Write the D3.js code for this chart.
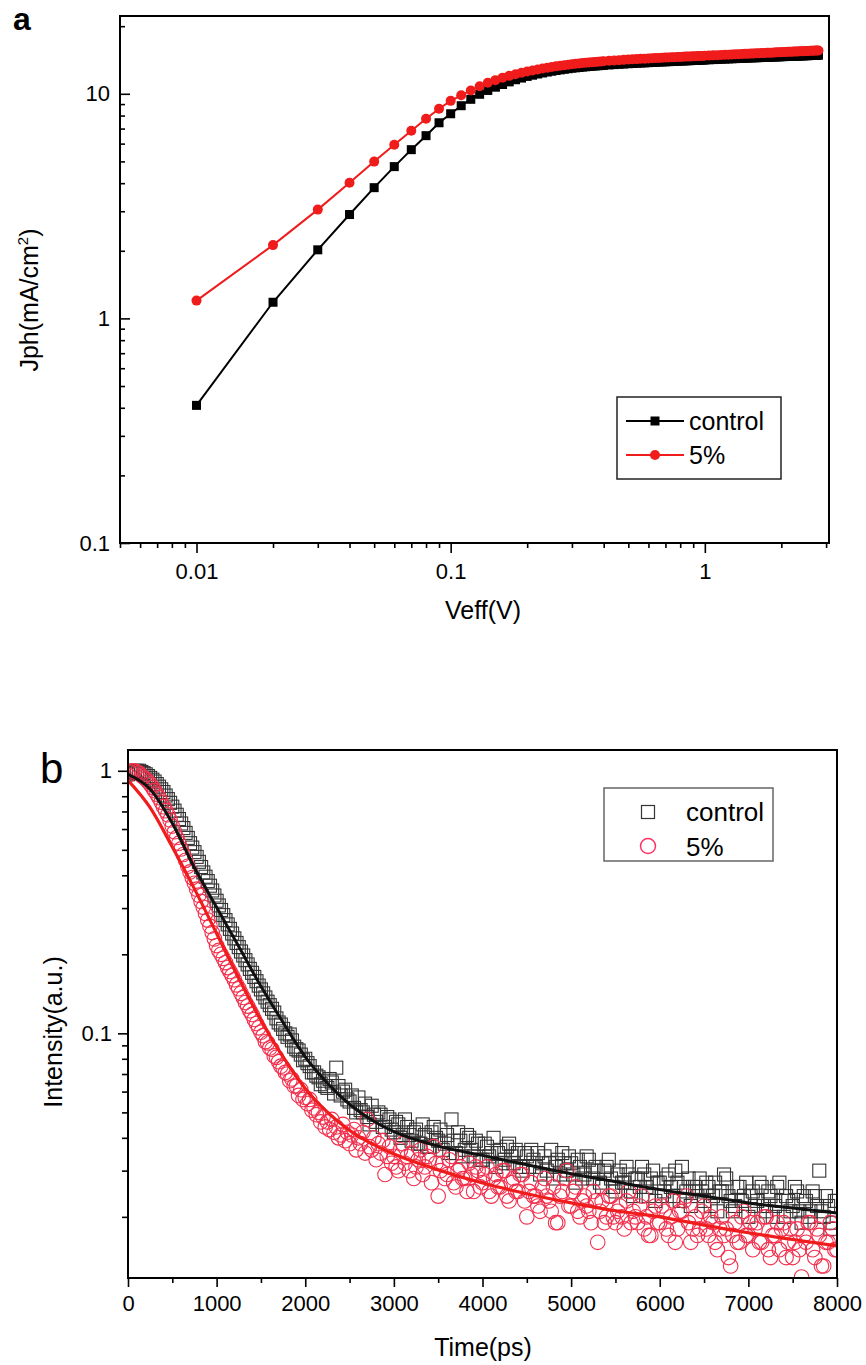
<!DOCTYPE html>
<html>
<head>
<meta charset="utf-8">
<script src="https://cdn.jsdelivr.net/npm/d3@7"></script>
<style>
    body { margin: 0; background: #fff; }
    svg { display: block; font-family: Arial, "Liberation Sans", sans-serif; }
</style>
</head>
<body>
<div id="chart"></div>
<script>
// ---- panel a : Jph vs Veff ----
const veff = [
    0.01, 0.02, 0.03, 0.04, 0.05, 0.06, 0.07, 0.08, 0.09, 0.10,
    0.11, 0.12, 0.13, 0.14, 0.15, 0.16, 0.17, 0.18, 0.19, 0.20,
    0.21, 0.22, 0.23, 0.24, 0.25, 0.26, 0.27, 0.28, 0.29, 0.30,
    0.31, 0.32, 0.33, 0.34, 0.35, 0.36, 0.37, 0.38, 0.39, 0.40,
    0.42, 0.44, 0.46, 0.48, 0.50, 0.52, 0.54, 0.56, 0.58, 0.60,
    0.62, 0.64, 0.66, 0.68, 0.70, 0.72, 0.74, 0.76, 0.78, 0.80,
    0.82, 0.84, 0.86, 0.88, 0.90, 0.92, 0.94, 0.96, 0.98, 1.00,
    1.04, 1.08, 1.12, 1.16, 1.20, 1.24, 1.28, 1.32, 1.36, 1.40,
    1.44, 1.48, 1.52, 1.56, 1.60, 1.64, 1.68, 1.72, 1.76, 1.80,
    1.84, 1.88, 1.92, 1.96, 2.00, 2.04, 2.08, 2.12, 2.16, 2.20,
    2.24, 2.28, 2.32, 2.36, 2.40, 2.44, 2.48, 2.52, 2.56, 2.60,
    2.64, 2.68, 2.72, 2.76, 2.80
]
const jphControl = [
    0.41, 1.18, 2.02, 2.90, 3.82, 4.74, 5.64, 6.51, 7.43, 8.15,
    8.85, 9.45, 9.95, 10.35, 10.7, 11.0, 11.3, 11.55, 11.75, 11.95,
    12.1, 12.25, 12.38, 12.5, 12.6, 12.7, 12.78, 12.86, 12.93, 13.0,
    13.05, 13.1, 13.15, 13.19, 13.23, 13.27, 13.3, 13.33, 13.36, 13.39,
    13.44, 13.49, 13.53, 13.57, 13.61, 13.64, 13.67, 13.70, 13.73, 13.76,
    13.79, 13.81, 13.84, 13.86, 13.88, 13.9, 13.92, 13.94, 13.96, 13.98,
    14.0, 14.02, 14.03, 14.05, 14.07, 14.08, 14.1, 14.11, 14.13, 14.14,
    14.17, 14.2, 14.22, 14.25, 14.27, 14.3, 14.32, 14.34, 14.36, 14.38,
    14.4, 14.42, 14.44, 14.46, 14.47, 14.49, 14.51, 14.52, 14.54, 14.55,
    14.57, 14.58, 14.6, 14.61, 14.62, 14.64, 14.65, 14.66, 14.68, 14.69,
    14.7, 14.71, 14.72, 14.74, 14.75, 14.76, 14.77, 14.78, 14.79, 14.8,
    14.81, 14.82, 14.83, 14.84, 14.85
]
const jph5 = [
    1.2, 2.12, 3.05, 4.02, 4.99, 5.93, 6.85, 7.74, 8.58, 9.3,
    9.85, 10.35, 10.8, 11.2, 11.5, 11.78, 12.02, 12.22, 12.4, 12.56,
    12.7, 12.83, 12.95, 13.06, 13.16, 13.25, 13.33, 13.41, 13.48, 13.54,
    13.6, 13.65, 13.7, 13.75, 13.79, 13.83, 13.87, 13.9, 13.93, 13.96,
    14.02, 14.07, 14.12, 14.16, 14.2, 14.24, 14.27, 14.31, 14.34, 14.37,
    14.4, 14.42, 14.45, 14.47, 14.5, 14.52, 14.54, 14.56, 14.58, 14.6,
    14.62, 14.64, 14.66, 14.67, 14.69, 14.71, 14.72, 14.74, 14.75, 14.77,
    14.8, 14.83, 14.86, 14.89, 14.92, 14.94, 14.97, 14.99, 15.01, 15.04,
    15.06, 15.08, 15.1, 15.12, 15.14, 15.16, 15.18, 15.2, 15.22, 15.24,
    15.25, 15.27, 15.29, 15.3, 15.32, 15.34, 15.35, 15.37, 15.38, 15.4,
    15.41, 15.43, 15.44, 15.46, 15.47, 15.48, 15.5, 15.51, 15.52, 15.54,
    15.55, 15.56, 15.57, 15.58, 15.6
]
const veffTicks = [0.01, 0.1, 1]
const jphTicks = [0.1, 1, 10]

// ---- panel b : PL decay ----
const timeStep = 25   // ps between channels, first channel at 0
const plControl = [
    0.97, 0.98, 0.99, 1.0, 1.0, 1.0, 0.99, 0.98, 0.97, 0.955, 0.94, 0.925, 0.91, 0.89, 0.87, 0.85, 0.83, 0.805, 0.78, 0.755,
    0.73, 0.705, 0.68, 0.655, 0.63, 0.605, 0.58, 0.555, 0.53, 0.51, 0.49, 0.47, 0.45, 0.43, 0.41, 0.395, 0.38, 0.365, 0.35, 0.335,
    0.32, 0.307, 0.295, 0.282, 0.27, 0.26, 0.25, 0.24, 0.23, 0.221, 0.213, 0.205, 0.198, 0.19, 0.183, 0.176, 0.17, 0.164, 0.158, 0.152,
    0.147, 0.142, 0.137, 0.132, 0.128, 0.124, 0.12, 0.114, 0.11, 0.108, 0.104, 0.1, 0.097, 0.099, 0.094, 0.089, 0.087, 0.086, 0.083, 0.079,
    0.08, 0.077, 0.075, 0.071, 0.071, 0.069, 0.068, 0.064, 0.066, 0.063, 0.062, 0.067, 0.065, 0.059, 0.074, 0.063, 0.058, 0.06, 0.061, 0.056,
    0.055, 0.058, 0.052, 0.05, 0.057, 0.051, 0.05, 0.054, 0.048, 0.045, 0.053, 0.049, 0.046, 0.05, 0.049, 0.044, 0.044, 0.048, 0.047, 0.043,
    0.042, 0.046, 0.045, 0.04, 0.041, 0.047, 0.044, 0.041, 0.039, 0.042, 0.043, 0.038, 0.038, 0.045, 0.041, 0.037, 0.037, 0.042, 0.044, 0.04,
    0.039, 0.043, 0.036, 0.038, 0.041, 0.035, 0.047, 0.039, 0.035, 0.042, 0.039, 0.034, 0.036, 0.041, 0.04, 0.036, 0.034, 0.039, 0.038, 0.033,
    0.033, 0.038, 0.037, 0.034, 0.035, 0.04, 0.031, 0.035, 0.036, 0.032, 0.033, 0.037, 0.038, 0.034, 0.032, 0.036, 0.035, 0.031, 0.03, 0.035,
    0.034, 0.031, 0.036, 0.033, 0.031, 0.035, 0.029, 0.032, 0.034, 0.03, 0.032, 0.036, 0.028, 0.031, 0.033, 0.029, 0.035, 0.032, 0.03, 0.034,
    0.032, 0.029, 0.027, 0.033, 0.031, 0.028, 0.029, 0.034, 0.033, 0.03, 0.028, 0.031, 0.03, 0.027, 0.026, 0.03, 0.031, 0.033, 0.028, 0.026,
    0.025, 0.029, 0.03, 0.027, 0.027, 0.031, 0.029, 0.025, 0.024, 0.028, 0.028, 0.026, 0.031, 0.029, 0.026, 0.024, 0.028, 0.03, 0.023, 0.027,
    0.027, 0.024, 0.025, 0.028, 0.029, 0.026, 0.024, 0.03, 0.027, 0.023, 0.031, 0.026, 0.025, 0.028, 0.022, 0.026, 0.026, 0.024, 0.028, 0.025,
    0.023, 0.027, 0.026, 0.022, 0.024, 0.027, 0.021, 0.025, 0.025, 0.029, 0.028, 0.024, 0.023, 0.021, 0.022, 0.026, 0.026, 0.023, 0.024, 0.027,
    0.02, 0.024, 0.025, 0.022, 0.023, 0.027, 0.026, 0.022, 0.021, 0.025, 0.024, 0.02, 0.022, 0.026, 0.027, 0.023, 0.02, 0.024, 0.023, 0.021,
    0.022, 0.026, 0.025, 0.021, 0.019, 0.024, 0.023, 0.02, 0.021, 0.025, 0.024, 0.022, 0.03, 0.021, 0.02, 0.024, 0.022, 0.018, 0.019, 0.023,
    0.023
]
const pl5 = [
    0.96, 0.99, 1.0, 1.0, 0.99, 0.98, 0.96, 0.945, 0.93, 0.91, 0.89, 0.865, 0.84, 0.815, 0.79, 0.76, 0.73, 0.705, 0.68, 0.65,
    0.616, 0.586, 0.557, 0.53, 0.504, 0.48, 0.456, 0.433, 0.412, 0.392, 0.373, 0.354, 0.336, 0.318, 0.302, 0.286, 0.27, 0.256, 0.242, 0.229,
    0.216, 0.207, 0.2, 0.193, 0.186, 0.178, 0.172, 0.166, 0.16, 0.153, 0.148, 0.142, 0.137, 0.131, 0.127, 0.122, 0.118, 0.113, 0.109, 0.105,
    0.101, 0.098, 0.093, 0.092, 0.088, 0.087, 0.082, 0.081, 0.078, 0.075, 0.074, 0.071, 0.07, 0.066, 0.067, 0.063, 0.063, 0.058, 0.061, 0.056,
    0.057, 0.054, 0.056, 0.051, 0.052, 0.049, 0.05, 0.046, 0.048, 0.044, 0.046, 0.043, 0.047, 0.042, 0.044, 0.04, 0.041, 0.045, 0.039, 0.042,
    0.038, 0.041, 0.043, 0.036, 0.04, 0.038, 0.042, 0.035, 0.047, 0.037, 0.036, 0.04, 0.033, 0.038, 0.035, 0.039, 0.029, 0.034, 0.037, 0.032,
    0.034, 0.031, 0.03, 0.036, 0.038, 0.032, 0.034, 0.03, 0.035, 0.028, 0.031, 0.033, 0.036, 0.029, 0.031, 0.034, 0.033, 0.027, 0.037, 0.032,
    0.024, 0.03, 0.032, 0.028, 0.029, 0.033, 0.034, 0.027, 0.026, 0.03, 0.031, 0.028, 0.028, 0.025, 0.032, 0.029, 0.025, 0.031, 0.03, 0.026,
    0.027, 0.029, 0.031, 0.025, 0.024, 0.028, 0.029, 0.026, 0.026, 0.03, 0.03, 0.024, 0.023, 0.027, 0.028, 0.025, 0.025, 0.029, 0.029, 0.023,
    0.02, 0.025, 0.027, 0.024, 0.024, 0.022, 0.021, 0.026, 0.028, 0.024, 0.023, 0.021, 0.026, 0.019, 0.019, 0.024, 0.025, 0.028, 0.03, 0.022,
    0.022, 0.025, 0.026, 0.021, 0.02, 0.023, 0.024, 0.022, 0.021, 0.019, 0.025, 0.023, 0.016, 0.021, 0.023, 0.019, 0.02, 0.024, 0.024, 0.02,
    0.019, 0.021, 0.022, 0.02, 0.018, 0.023, 0.025, 0.019, 0.021, 0.02, 0.019, 0.022, 0.024, 0.018, 0.02, 0.017, 0.017, 0.021, 0.022, 0.019,
    0.019, 0.022, 0.021, 0.018, 0.017, 0.02, 0.023, 0.016, 0.018, 0.021, 0.021, 0.023, 0.024, 0.019, 0.016, 0.018, 0.02, 0.017, 0.018, 0.021,
    0.022, 0.018, 0.017, 0.02, 0.019, 0.016, 0.015, 0.018, 0.02, 0.017, 0.018, 0.014, 0.013, 0.017, 0.019, 0.016, 0.016, 0.02, 0.021, 0.017,
    0.017, 0.019, 0.015, 0.018, 0.019, 0.016, 0.016, 0.02, 0.02, 0.015, 0.014, 0.017, 0.017, 0.019, 0.015, 0.018, 0.019, 0.014, 0.016, 0.018,
    0.014, 0.016, 0.018, 0.015, 0.0118, 0.017, 0.016, 0.019, 0.019, 0.015, 0.014, 0.018, 0.017, 0.013, 0.013, 0.016, 0.016, 0.019, 0.018, 0.015,
    0.015
]
// fitted decay curves (read at these times)
const fitTime = [0, 250, 500, 750, 1000, 1250, 1500, 1750, 2000, 2250, 2500, 2750,
    3000, 3500, 4000, 4500, 5000, 5500, 6000, 6500, 7000, 7500, 8000]
const fitControl = [0.97, 0.851, 0.631, 0.427, 0.302, 0.214, 0.151, 0.110, 0.0813, 0.0646, 0.0537, 0.0468,
    0.0422, 0.0372, 0.0343, 0.0316, 0.0292, 0.0272, 0.0254, 0.0240, 0.0226, 0.0216, 0.0207]
const fit5 = [0.92, 0.724, 0.513, 0.355, 0.240, 0.162, 0.112, 0.0813, 0.0617, 0.0501, 0.0427, 0.0380,
    0.0347, 0.0302, 0.0269, 0.0245, 0.0226, 0.0211, 0.0200, 0.0186, 0.0174, 0.0164, 0.0155]
const timeTicks = [0, 1000, 2000, 3000, 4000, 5000, 6000, 7000, 8000]
const intensityTicks = [0.1, 1]

const RED = "#f01c1c"
const PINK = "#f2304e"

const svg = d3.select("#chart").append("svg")
    .attr("width", 866)
    .attr("height", 1365)
    .attr("viewBox", [0, 0, 866, 1365])

// minor ticks of a log axis: 2..9 of every decade, kept inside the domain
function logMinors(domain) {
    const out = []
    const lo = Math.floor(Math.log10(domain[0])), hi = Math.ceil(Math.log10(domain[1]))
    for (let e = lo; e <= hi; e++) {
        for (let k = 2; k <= 9; k++) {
            const v = +(k * Math.pow(10, e)).toPrecision(6)
            if (v >= domain[0] && v <= domain[1]) out.push(v)
        }
    }
    return out
}

function styleAxis(g, fontSize) {
    g.select(".domain").remove()
    g.selectAll(".tick line").attr("stroke", "#000").attr("stroke-width", 1.6)
    g.selectAll(".tick text").attr("fill", "#000").style("font-size", fontSize + "px")
        .style("font-family", "Arial, 'Liberation Sans', sans-serif")
}

// ================= panel a =================
{
    const L = 120, T = 16, R = 829, B = 543
    const xDomain = [0.005, 3.08]
    const yDomain = [0.1, 22.2]
    const x = d3.scaleLog(xDomain, [L, R])
    const y = d3.scaleLog(yDomain, [B, T])
    const g = svg.append("g")

    // x axis, ticks outward
    g.append("g").attr("transform", `translate(0,${B})`)
        .call(d3.axisBottom(x).tickValues(veffTicks).tickSize(10).tickPadding(10).tickFormat(d3.format("~g")))
        .call(a => styleAxis(a, 22))
    g.append("g").attr("transform", `translate(0,${B})`)
        .call(d3.axisBottom(x).tickValues(logMinors(xDomain)).tickSize(5).tickFormat(""))
        .call(a => styleAxis(a, 22))

    // y axis, ticks inward
    g.append("g").attr("transform", `translate(${L},0)`)
        .call(d3.axisLeft(y).tickValues(jphTicks).tickSize(-10).tickPadding(10).tickFormat(d3.format("~g")))
        .call(a => styleAxis(a, 22))
    g.append("g").attr("transform", `translate(${L},0)`)
        .call(d3.axisLeft(y).tickValues(logMinors(yDomain)).tickSize(-5).tickFormat(""))
        .call(a => styleAxis(a, 22))

    g.append("rect")
        .attr("x", L).attr("y", T).attr("width", R - L).attr("height", B - T)
        .attr("fill", "none").attr("stroke", "#000").attr("stroke-width", 2)

    const line = d3.line().x(d => x(d[0])).y(d => y(d[1]))
    const ctrl = d3.zip(veff, jphControl)
    const five = d3.zip(veff, jph5)

    g.append("path").datum(ctrl).attr("d", line)
        .attr("fill", "none").attr("stroke", "#000").attr("stroke-width", 2)
    g.append("g").selectAll("rect").data(ctrl).join("rect")
        .attr("x", d => x(d[0]) - 4.5).attr("y", d => y(d[1]) - 4.5)
        .attr("width", 9).attr("height", 9).attr("fill", "#000")

    g.append("path").datum(five).attr("d", line)
        .attr("fill", "none").attr("stroke", RED).attr("stroke-width", 2)
    g.append("g").selectAll("circle").data(five).join("circle")
        .attr("cx", d => x(d[0])).attr("cy", d => y(d[1])).attr("r", 5).attr("fill", RED)

    // legend
    const lg = g.append("g")
    lg.append("rect").attr("x", 617).attr("y", 397).attr("width", 164).attr("height", 82)
        .attr("fill", "#fff").attr("stroke", "#222").attr("stroke-width", 1.5)
    const items = [["control", "#000", "square"], ["5%", RED, "circle"]]
    items.forEach((it, i) => {
        const cy = 421 + i * 34
        lg.append("line").attr("x1", 626).attr("x2", 684).attr("y1", cy).attr("y2", cy)
            .attr("stroke", it[1]).attr("stroke-width", 2)
        if (it[2] === "square") {
            lg.append("rect").attr("x", 655 - 4.5).attr("y", cy - 4.5).attr("width", 9).attr("height", 9).attr("fill", it[1])
        } else {
            lg.append("circle").attr("cx", 655).attr("cy", cy).attr("r", 5).attr("fill", it[1])
        }
        lg.append("text").attr("x", 689).attr("y", cy + 9).text(it[0]).style("font-size", "25px")
    })

    // titles
    g.append("text").attr("x", 483).attr("y", 619).attr("text-anchor", "middle")
        .style("font-size", "25px").text("Veff(V)")
    const yt = g.append("text").attr("transform", "translate(38,300) rotate(-90)")
        .attr("text-anchor", "middle").style("font-size", "25px")
    yt.append("tspan").text("Jph(mA/cm")
    yt.append("tspan").attr("dy", -10).style("font-size", "15px").text("2")
    yt.append("tspan").attr("dy", 10).text(")")

    g.append("text").attr("x", 13).attr("y", 30).style("font-size", "32px").style("font-weight", "bold").text("a")
}

// ================= panel b =================
{
    const L = 128, T = 750, R = 837, B = 1278
    const xDomain = [0, 8000]
    const yDomain = [0.0117, 1.2]
    const x = d3.scaleLinear(xDomain, [L, R])
    const y = d3.scaleLog(yDomain, [B, T])
    const g = svg.append("g")

    g.append("g").attr("transform", `translate(0,${B})`)
        .call(d3.axisBottom(x).tickValues(timeTicks).tickSize(9).tickPadding(8).tickFormat(d3.format("d")))
        .call(a => styleAxis(a, 22))
    g.append("g").attr("transform", `translate(0,${B})`)
        .call(d3.axisBottom(x).tickValues(timeTicks.slice(0, -1).map(t => t + 500)).tickSize(5).tickFormat(""))
        .call(a => styleAxis(a, 22))

    g.append("g").attr("transform", `translate(${L},0)`)
        .call(d3.axisLeft(y).tickValues(intensityTicks).tickSize(10).tickPadding(6).tickFormat(d3.format("~g")))
        .call(a => styleAxis(a, 22))
    g.append("g").attr("transform", `translate(${L},0)`)
        .call(d3.axisLeft(y).tickValues(logMinors(yDomain)).tickSize(6).tickFormat(""))
        .call(a => styleAxis(a, 22))

    svg.append("clipPath").attr("id", "clipB").append("rect")
        .attr("x", L).attr("y", T).attr("width", R - L).attr("height", B - T)

    const plot = g.append("g").attr("clip-path", "url(#clipB)")
    const ctrl = plControl.map((v, i) => [i * timeStep, v])
    const five = pl5.map((v, i) => [i * timeStep, v])

    plot.append("g").selectAll("rect").data(ctrl).join("rect")
        .attr("x", d => x(d[0]) - 6.5).attr("y", d => y(d[1]) - 6.5)
        .attr("width", 13).attr("height", 13)
        .attr("fill", "none").attr("stroke", "#333").attr("stroke-width", 1.1)
    plot.append("g").selectAll("circle").data(five).join("circle")
        .attr("cx", d => x(d[0])).attr("cy", d => y(d[1])).attr("r", 7.3)
        .attr("fill", "none").attr("stroke", PINK).attr("stroke-width", 1.1)

    const fitLine = d3.line().x(d => x(d[0])).y(d => y(d[1])).curve(d3.curveMonotoneX)
    plot.append("path").datum(d3.zip(fitTime, fitControl)).attr("d", fitLine)
        .attr("fill", "none").attr("stroke", "#111").attr("stroke-width", 3)
    plot.append("path").datum(d3.zip(fitTime, fit5)).attr("d", fitLine)
        .attr("fill", "none").attr("stroke", RED).attr("stroke-width", 3.2)

    g.append("rect")
        .attr("x", L).attr("y", T).attr("width", R - L).attr("height", B - T)
        .attr("fill", "none").attr("stroke", "#000").attr("stroke-width", 2)

    // legend
    const lg = g.append("g")
    lg.append("rect").attr("x", 604).attr("y", 788).attr("width", 169).attr("height", 73)
        .attr("fill", "#fff").attr("stroke", "#666").attr("stroke-width", 1.5)
    lg.append("rect").attr("x", 641.5).attr("y", 805.5).attr("width", 13).attr("height", 13)
        .attr("fill", "none").attr("stroke", "#333").attr("stroke-width", 1.2)
    lg.append("circle").attr("cx", 648).attr("cy", 846).attr("r", 7.5)
        .attr("fill", "none").attr("stroke", "#ff3366").attr("stroke-width", 1.5)
    lg.append("text").attr("x", 686).attr("y", 821).style("font-size", "26px").text("control")
    lg.append("text").attr("x", 686).attr("y", 856).style("font-size", "26px").text("5%")

    g.append("text").attr("x", 483).attr("y", 1356).attr("text-anchor", "middle")
        .style("font-size", "25px").text("Time(ps)")
    g.append("text").attr("transform", "translate(62,1032) rotate(-90)")
        .attr("text-anchor", "middle").style("font-size", "25px").text("Intensity(a.u.)")

    g.append("text").attr("x", 40).attr("y", 783).style("font-size", "42px").text("b")
}
</script>
</body>
</html>
